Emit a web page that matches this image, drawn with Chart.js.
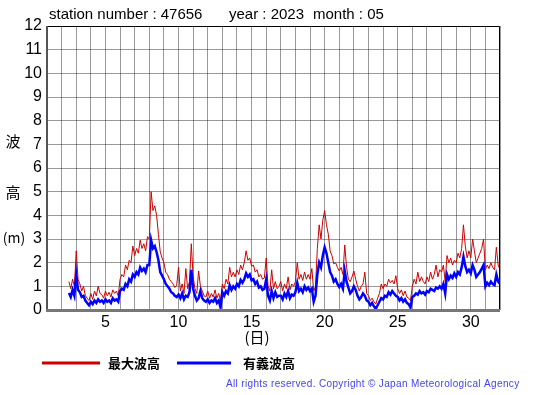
<!DOCTYPE html>
<html>
<head>
<meta charset="utf-8">
<script src="https://cdn.jsdelivr.net/npm/chart.js@4/dist/chart.umd.min.js"></script>
<style>
  html, body { margin: 0; padding: 0; background: #fff; }
  #wrap { width: 555px; height: 395px; position: relative; }
</style>
</head>
<body>
<div id="wrap"><canvas id="waveChart" width="555" height="395"></canvas></div>
<script>
// 3-hourly readings, first one at day 2.5
const startDay = 2.5;
const stepDays = 0.125;

// 有義波高 (m)
const significantWave = [
  0.72, 0.55, 0.85, 0.6,
  1.5, 0.85, 0.75, 0.55, 0.6, 0.4, 0.3, 0.2,
  0.35, 0.25, 0.4, 0.3, 0.45, 0.35, 0.4, 0.3,
  0.45, 0.35, 0.4, 0.3, 0.5, 0.4, 0.45, 0.35,
  0.8, 0.9, 0.85, 1.1, 1.0, 1.3, 1.2, 1.5,
  1.4, 1.6, 1.5, 1.8, 1.65, 1.75, 1.6, 1.9,
  1.9, 2.95, 2.6, 2.7, 2.45, 2.1, 1.6, 1.45,
  1.3, 1.1, 1.0, 0.9, 0.75, 0.7, 0.6, 0.55,
  0.65, 0.5, 0.7, 0.45, 0.6, 0.55, 0.75, 1.7,
  0.9, 0.6, 0.4, 0.5, 0.8, 0.5, 0.4, 0.35,
  0.45, 0.3, 0.4, 0.35, 0.5, 0.3, 0.4, 0.1,
  0.75, 0.6, 0.8, 0.7, 1.05, 0.85, 1.0, 0.9,
  1.1, 1.0, 1.27, 1.15, 1.3, 1.55, 1.4, 1.5,
  1.25, 1.3, 1.1, 1.2, 0.95, 1.0, 0.85, 0.9,
  1.3, 0.6, 0.4, 0.8, 0.5, 0.75, 0.55, 0.6,
  0.6, 0.45, 0.7, 0.55, 0.8, 0.5, 0.65, 0.6,
  0.75, 1.15, 0.8, 0.9, 0.75, 1.0, 0.85, 0.95,
  0.8, 0.9, 0.35, 0.6, 1.5, 2.0, 1.8, 2.3,
  2.65, 2.4, 2.0, 1.6, 1.45, 1.2, 1.3, 1.1,
  0.97, 1.1, 0.9, 1.65, 1.2, 0.95, 0.7, 0.8,
  1.0, 0.85, 0.6, 0.45, 0.55, 0.7, 0.6, 0.4,
  0.35, 0.2, 0.3, 0.15, 0.05, 0.2, 0.35, 0.5,
  0.45, 0.6, 0.55, 0.75, 0.65, 0.8, 0.7, 0.6,
  0.55, 0.4, 0.5, 0.35, 0.45, 0.3, 0.25, 0.1,
  0.55, 0.6, 0.7, 0.65, 0.8, 0.7, 0.75, 0.65,
  0.8, 0.75, 0.9, 0.85, 0.8, 0.95, 0.9, 1.0,
  0.9, 1.1, 0.7, 1.5, 1.3, 1.45, 1.35, 1.55,
  1.4, 1.6, 1.5, 1.8, 2.25, 1.85, 1.6, 1.7,
  1.55, 1.9, 1.7, 1.4, 1.5, 1.6, 1.75, 1.9,
  1.0, 1.15, 1.05, 1.2, 1.1, 1.05, 1.5, 1.2,
  1.1
];

// 最大波高 (m)
const maxWave = [
  1.2, 0.9, 1.3, 1.0,
  2.5, 1.3, 1.1, 0.8, 1.0, 0.6, 0.5, 0.4,
  0.7, 0.45, 0.8, 0.6, 1.0, 0.7, 0.65, 0.5,
  0.8, 0.6, 0.75, 0.55, 0.85, 0.7, 0.8, 0.6,
  1.3, 1.5, 1.4, 1.9, 1.7, 2.1, 2.0, 2.7,
  2.3, 2.6, 2.4, 2.95, 2.6, 2.8, 2.5, 3.1,
  3.0, 5.0, 4.2, 4.4, 4.0, 3.2, 2.45, 2.2,
  2.0, 1.6, 1.5, 1.3, 1.2, 1.1, 0.95, 1.05,
  1.8, 0.8, 1.1, 0.7, 1.75, 0.9, 1.2, 2.8,
  1.4, 0.9, 0.7, 1.65, 1.0, 0.8, 0.6, 0.55,
  0.8, 0.5, 0.7, 0.55, 0.85, 0.5, 0.7, 0.4,
  1.1, 0.9, 1.3, 1.1, 1.8, 1.4, 1.6, 1.4,
  1.7, 1.5, 1.9, 1.7, 2.0, 2.5, 2.1, 2.2,
  1.85, 1.9, 1.6, 1.7, 1.4, 1.5, 1.3, 1.35,
  2.2, 1.0, 0.8, 1.7, 0.9, 1.2, 0.9, 1.0,
  1.2, 0.8, 1.1, 0.9, 1.4, 0.85, 1.1, 1.0,
  1.2, 2.0, 1.3, 1.5, 1.25, 1.6, 1.3, 1.5,
  1.3, 1.75, 0.8, 1.0, 2.6, 3.6, 3.0, 3.8,
  4.2, 3.6, 3.2, 2.5, 2.3, 1.95, 2.0, 1.8,
  1.65, 1.8, 1.5, 2.75, 1.8, 1.3, 1.2, 1.4,
  1.65, 1.3, 1.0, 0.8, 1.0, 1.1, 1.6, 0.7,
  0.6, 0.4, 0.5, 0.35, 0.25, 0.5, 0.7, 1.1,
  0.9, 1.1, 1.0, 1.3, 1.15, 1.25, 1.1, 1.45,
  0.9, 0.7, 0.85, 0.6, 0.8, 0.55, 0.5, 0.4,
  1.0, 1.3, 1.1, 1.6, 1.2, 1.4, 1.2, 1.1,
  1.4, 1.2, 1.6, 1.3, 1.5, 1.9, 1.4, 1.7,
  1.6, 1.9, 1.2, 2.3, 2.0, 2.2, 1.9, 2.1,
  2.0, 2.4, 2.2, 2.6, 3.6, 2.7, 2.2, 2.5,
  2.2, 3.0, 2.5, 2.0, 2.2, 2.4, 2.6, 3.0,
  1.7, 1.9, 1.75, 2.0, 1.8, 1.7, 2.65, 1.9,
  1.7
];

const xTickLabels = [5, 10, 15, 20, 25, 30];
const yTickLabels = [0, 1, 2, 3, 4, 5, 6, 7, 8, 9, 10, 11, 12];
const titleParts = ["station number : 47656", "year : 2023", "month : 05"];
const legendLabels = ["最大波高", "有義波高"];

function toPoints(values) {
  return values.map((v, i) => ({ x: startDay + i * stepDays, y: v }));
}

const FONT = '"Liberation Sans", Arial, Helvetica, sans-serif';
const JP_FONT = '"Noto Sans CJK JP", sans-serif';

const extras = {
  id: "extras",
  afterDraw(chart) {
    const ctx = chart.ctx;
    const a = chart.chartArea;
    ctx.save();
    // frame
    ctx.strokeStyle = "#000";
    ctx.lineWidth = 1;
    ctx.beginPath();
    ctx.moveTo(a.left, a.top + 0.5);
    ctx.lineTo(a.right - 0.5, a.top + 0.5);
    ctx.lineTo(a.right - 0.5, a.bottom);
    ctx.stroke();
    ctx.strokeStyle = "#555";
    ctx.lineWidth = 2;
    ctx.beginPath();
    ctx.moveTo(a.left, a.top);
    ctx.lineTo(a.left, a.bottom);
    ctx.stroke();
    ctx.strokeStyle = "#777";
    ctx.lineWidth = 3;
    ctx.beginPath();
    ctx.moveTo(a.left - 1, a.bottom + 0.5);
    ctx.lineTo(a.right, a.bottom + 0.5);
    ctx.stroke();

    // title
    ctx.fillStyle = "#000";
    ctx.font = "15px " + FONT;
    ctx.textBaseline = "middle";
    ctx.textAlign = "left";
    ctx.fillText(titleParts[0], 49, 15);
    ctx.fillText(titleParts[1], 229, 15);
    ctx.fillText(titleParts[2], 313, 15);

    // y axis title
    ctx.font = "15px " + JP_FONT;
    ctx.textAlign = "center";
    ctx.fillText("波", 13, 141);
    ctx.fillText("高", 13, 192);
    ctx.font = "14px " + JP_FONT;
    ctx.fillText("(m)", 14, 238);

    // x axis title
    ctx.font = "15px " + JP_FONT;
    ctx.fillText("(日)", 257, 337);

    // legend
    const items = [
      { x1: 42, x2: 100, tx: 108, color: "#cc0000" },
      { x1: 177, x2: 231, tx: 243, color: "#0000ff" }
    ];
    items.forEach((it, i) => {
      ctx.strokeStyle = it.color;
      ctx.lineWidth = 3;
      ctx.beginPath();
      ctx.moveTo(it.x1, 363);
      ctx.lineTo(it.x2, 363);
      ctx.stroke();
      ctx.fillStyle = "#000";
      ctx.font = "bold 13px " + JP_FONT;
      ctx.textAlign = "left";
      ctx.fillText(legendLabels[i], it.tx, 363);
    });

    // copyright
    ctx.fillStyle = "#4444ee";
    ctx.font = "10px " + FONT;
    ctx.textAlign = "left";
    if ("letterSpacing" in ctx) ctx.letterSpacing = "0.35px";
    ctx.fillText("All rights reserved. Copyright \u00a9 Japan Meteorological Agency", 226, 384);
    ctx.restore();
  }
};

new Chart(document.getElementById("waveChart"), {
  type: "line",
  data: {
    datasets: [
      {
        label: legendLabels[1],
        data: toPoints(significantWave),
        borderColor: "#0000ff",
        borderWidth: 2.5,
        pointRadius: 0,
        tension: 0
      },
      {
        label: legendLabels[0],
        data: toPoints(maxWave),
        borderColor: "#cc0000",
        borderWidth: 1,
        pointRadius: 0,
        tension: 0
      }
    ]
  },
  options: {
    responsive: false,
    animation: false,
    events: [],
    layout: { padding: { left: 0, right: 55, top: 26, bottom: 0 } },
    plugins: {
      legend: { display: false },
      tooltip: { enabled: false }
    },
    scales: {
      x: {
        type: "linear",
        min: 1,
        max: 32,
        afterFit: (s) => { s.height = 85; },
        afterBuildTicks: (s) => {
          s.ticks = [];
          for (let d = 1; d <= 32; d++) s.ticks.push({ value: d });
        },
        grid: { color: "rgba(0,0,0,0.4)", lineWidth: 1, drawTicks: false },
        border: { display: false },
        ticks: {
          padding: 3,
          autoSkip: false,
          maxRotation: 0,
          color: "#000",
          font: { family: FONT, size: 16 },
          callback: (v) => (xTickLabels.includes(v) ? String(v) : "")
        }
      },
      y: {
        min: 0,
        max: 12,
        afterFit: (s) => { s.width = 47; },
        afterBuildTicks: (s) => {
          s.ticks = yTickLabels.map((v) => ({ value: v }));
        },
        grid: { color: "rgba(0,0,0,0.4)", lineWidth: 1, drawTicks: false },
        border: { display: false },
        ticks: {
          padding: 5,
          color: "#000",
          font: { family: FONT, size: 16 }
        }
      }
    }
  },
  plugins: [extras]
});
</script>
</body>
</html>
